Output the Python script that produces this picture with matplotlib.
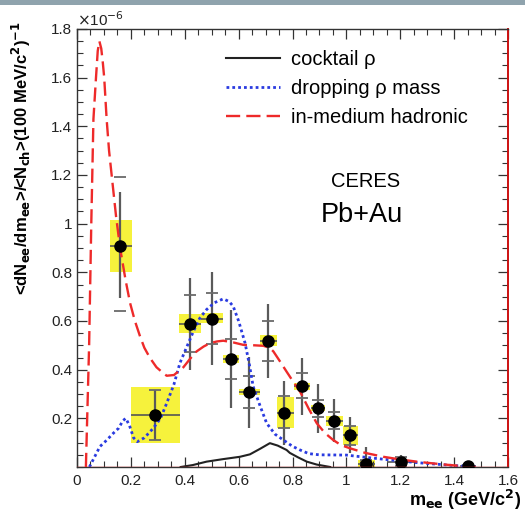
import matplotlib
matplotlib.use('Agg')
import matplotlib.pyplot as plt
import numpy as np
from matplotlib.patches import Rectangle
from matplotlib.ticker import MultipleLocator, FormatStrFormatter

plt.rcParams['font.family'] = ['Liberation Sans', 'DejaVu Sans']

# ---------- data points (values in units of 1e-6) -----------------------------
m_pts   = [0.16, 0.29, 0.42, 0.50, 0.57, 0.64, 0.71, 0.77, 0.835, 0.895, 0.955, 1.015, 1.073, 1.203, 1.452]
val_pts = [0.907, 0.214, 0.588, 0.61, 0.445, 0.308, 0.516, 0.221, 0.334, 0.242, 0.191, 0.132, 0.012, 0.022, 0.004]
bin_lo  = [0.122, 0.200, 0.379, 0.461, 0.541, 0.602, 0.679, 0.741, 0.805, 0.868, 0.925, 0.986, 1.044, 1.150, 1.420]
bin_hi  = [0.203, 0.382, 0.461, 0.541, 0.602, 0.679, 0.741, 0.805, 0.865, 0.922, 0.986, 1.044, 1.106, 1.250, 1.480]
stat_lo = [0.695, 0.111, 0.40, 0.42, 0.242, 0.16, 0.365, 0.091, 0.214, 0.139, 0.104, 0.056, 0.0, 0.0, 0.0]
stat_hi = [1.13, 0.317, 0.777, 0.80, 0.647, 0.454, 0.671, 0.355, 0.448, 0.342, 0.28, 0.207, 0.084, 0.05, 0.01]
cap_lo  = [0.64, 0.111, 0.472, 0.507, 0.361, 0.242, 0.434, 0.159, 0.283, 0.207, 0.155, 0.09, 0.0, 0.005, 0.0]
cap_hi  = [1.19, 0.317, 0.705, 0.715, 0.527, 0.372, 0.598, 0.29, 0.386, 0.276, 0.228, 0.17, 0.03, 0.04, 0.008]
sys_lo  = [0.80, 0.100, 0.551, 0.592, 0.427, 0.294, 0.496, 0.159, 0.317, 0.23, 0.17, 0.091, 0.0, 0.022, 0.004]
sys_hi  = [1.017, 0.328, 0.629, 0.633, 0.461, 0.32, 0.541, 0.287, 0.347, 0.255, 0.21, 0.169, 0.029, 0.022, 0.004]

# ---------- model curves ------------------------------------------------------
m_hadr = [0.033, 0.045, 0.053, 0.061, 0.0705, 0.077, 0.083, 0.090, 0.096, 0.101, 0.110, 0.119,
          0.129, 0.145, 0.16, 0.18, 0.197, 0.215, 0.234, 0.25, 0.271, 0.295, 0.32, 0.333, 0.36,
          0.395, 0.42, 0.444, 0.47, 0.494, 0.52, 0.543, 0.58, 0.617, 0.66, 0.692, 0.715, 0.729,
          0.75, 0.778, 0.80, 0.828, 0.86, 0.89, 0.92, 0.951, 0.98, 1.013, 1.07, 1.137, 1.2,
          1.261, 1.32, 1.385, 1.44, 1.48]
v_hadr = [0.0, 0.5, 1.0, 1.43, 1.6, 1.71, 1.75, 1.72, 1.66, 1.6, 1.43, 1.3,
          1.196, 1.03, 0.9, 0.77, 0.674, 0.6, 0.537, 0.49, 0.448, 0.41, 0.386, 0.375, 0.378,
          0.41, 0.445, 0.475, 0.495, 0.509, 0.516, 0.519, 0.512, 0.502, 0.5, 0.498, 0.49, 0.475,
          0.44, 0.392, 0.355, 0.31, 0.24, 0.18, 0.14, 0.111, 0.09, 0.077, 0.058, 0.042, 0.031,
          0.022, 0.015, 0.008, 0.003, 0.0]

m_drop = [0.046, 0.06, 0.085, 0.11, 0.135, 0.155, 0.17, 0.181, 0.195, 0.21, 0.224, 0.25, 0.283,
          0.31, 0.333, 0.36, 0.382, 0.41, 0.432, 0.455, 0.481, 0.51, 0.543, 0.565, 0.58, 0.60,
          0.624, 0.64, 0.654, 0.68, 0.704, 0.735, 0.766, 0.80, 0.828, 0.86, 0.9, 1.0, 1.07,
          1.137, 1.2, 1.261, 1.33, 1.4, 1.48]
v_drop = [0.0, 0.03, 0.084, 0.11, 0.139, 0.16, 0.19, 0.2, 0.17, 0.12, 0.104, 0.12, 0.159,
          0.2, 0.262, 0.34, 0.427, 0.5, 0.557, 0.61, 0.647, 0.675, 0.691, 0.68, 0.66, 0.6,
          0.509, 0.42, 0.331, 0.25, 0.18, 0.135, 0.111, 0.085, 0.07, 0.055, 0.05, 0.049, 0.04,
          0.032, 0.025, 0.018, 0.012, 0.006, 0.0]

m_cock = [0.385, 0.43, 0.481, 0.54, 0.605, 0.642, 0.68, 0.716, 0.745, 0.778, 0.79, 0.82, 0.853, 0.89, 0.94]
v_cock = [0.0, 0.008, 0.022, 0.032, 0.042, 0.052, 0.075, 0.098, 0.088, 0.07, 0.058, 0.04, 0.022, 0.01, 0.0]

fig = plt.figure(figsize=(5.25, 5.15), dpi=100)
ax = fig.add_axes([77/525, 1 - 467/515, 431/525, 438/515])

# slide header strip
fig.patches.append(Rectangle((0, 1 - 5/515), 1, 5/515, transform=fig.transFigure,
                             facecolor='#8fa3ad', edgecolor='none', zorder=0))

# ---------- systematic boxes, error bars, points -------------------------------
lo, hi = np.array(bin_lo), np.array(bin_hi)
ax.bar((lo + hi) / 2, np.array(sys_hi) - np.array(sys_lo), bottom=sys_lo,
       width=hi - lo, color='#f6f23c', edgecolor='none', zorder=1)
ax.vlines(m_pts, stat_lo, stat_hi, color='#5a5a5a', lw=1.6, zorder=3)
ax.hlines(val_pts, bin_lo, bin_hi, color='#555555', lw=1.2, zorder=3)
ax.plot(m_pts, cap_lo, ls='none', marker='_', ms=9, mew=1.3, color='#6a6a6a', zorder=3)
ax.plot(m_pts, cap_hi, ls='none', marker='_', ms=9, mew=1.3, color='#6a6a6a', zorder=3)

# ---------- model curves -----------------------------------------------------
ax.plot(m_cock, v_cock, color='#222222', lw=1.5, label='cocktail ρ', zorder=4)
ax.plot(m_drop, v_drop, color='#2a3be0', lw=2.0, ls=(0, (1, 1.1)),
        label='dropping ρ mass', zorder=4)
ax.plot(m_hadr, v_hadr, color='#ee2a2a', lw=1.7, ls=(0, (6, 2.6)),
        label='in-medium hadronic', zorder=5)

ax.plot(m_pts, val_pts, ls='none', marker='o', ms=8, color='black', zorder=6)

# ---------- axes ------------------------------------------------------------
ax.set_xlim(0, 1.6)
ax.set_ylim(0, 1.8)
ax.axhline(0, color='#e83030', lw=1.0, zorder=7)
ax.xaxis.set_major_locator(MultipleLocator(0.2))
ax.xaxis.set_minor_locator(MultipleLocator(0.05))
ax.set_yticks(np.arange(0.2, 1.81, 0.2))
ax.yaxis.set_minor_locator(MultipleLocator(0.05))
ax.xaxis.set_major_formatter(FormatStrFormatter('%g'))
ax.yaxis.set_major_formatter(FormatStrFormatter('%g'))
ax.tick_params(which='both', direction='in', top=True, right=True,
               labelsize=11, colors='#333333', labelcolor='#222222')
ax.tick_params(which='major', length=7, width=0.9)
ax.tick_params(which='minor', length=4, width=0.8)
ax.tick_params(axis='x', pad=5)
for side in ['left', 'top', 'bottom']:
    ax.spines[side].set_color('#333333')
    ax.spines[side].set_linewidth(1.0)
ax.spines['right'].set_color('#cc1111')
ax.spines['right'].set_linewidth(1.4)

ax.text(0.0, 1.0, r'$\times$10$^{-6}$', transform=ax.transAxes, fontsize=11,
        color='#222222', ha='left', va='bottom')

fig.text(521/525, 1 - 500/515, r'm$_{\mathbf{ee}}$ (GeV/c$^{\mathbf{2}}$)', fontsize=13,
         fontweight='bold', ha='right', va='center')
fig.text(21/525, 1 - 158/515,
         r'<dN$_{\mathbf{ee}}$/dm$_{\mathbf{ee}}$>/<N$_{\mathbf{ch}}$>(100 MeV/c$^{\mathbf{2}}$)$^{\mathbf{-1}}$',
         fontsize=12, fontweight='bold', rotation=90, ha='center', va='center')

ax.text(0.59, 0.64, 'CERES', transform=ax.transAxes, fontsize=14.5, ha='left')
ax.text(0.565, 0.56, 'Pb+Au', transform=ax.transAxes, fontsize=19.5, ha='left')

ax.legend(loc='upper left', bbox_to_anchor=(226/525, 1 - 50/515), bbox_transform=fig.transFigure,
          frameon=False, fontsize=14.5, handlelength=2.7, handletextpad=0.55,
          labelspacing=0.5, borderpad=0, borderaxespad=0)

fig.savefig('out.png', dpi=100)
